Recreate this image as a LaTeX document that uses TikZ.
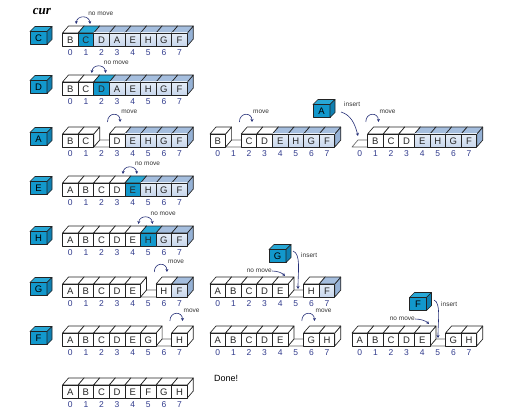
\documentclass[tikz,border=0pt]{standalone}
\usepackage{fontspec}
\setmainfont{Liberation Sans}
\newfontfamily\curfont{Liberation Serif}
\usepackage{xcolor}
\usetikzlibrary{arrows.meta}

\definecolor{curblue}{RGB}{18,152,204}
\definecolor{curtop}{RGB}{40,168,214}
\definecolor{curside}{RGB}{14,128,178}
\definecolor{restfront}{RGB}{200,215,236}
\definecolor{restlight}{RGB}{230,237,247}
\definecolor{resttop}{RGB}{165,190,222}
\definecolor{restside}{RGB}{150,178,214}
\definecolor{idxblue}{RGB}{48,58,140}
\definecolor{arrowblue}{RGB}{38,48,120}
\definecolor{edgegray}{RGB}{35,35,35}

\tikzset{
  cellline/.style={draw=edgegray, line width=.65pt, line join=round},
  front w/.style={cellline, fill=white},
  top w/.style={cellline, fill=white},
  side w/.style={cellline, fill=white},
  front c/.style={cellline, fill=curblue},
  top c/.style={cellline, fill=curtop},
  side c/.style={cellline, fill=curside},
  front u/.style={cellline, top color=restlight, bottom color=restfront},
  top u/.style={cellline, fill=resttop},
  side u/.style={cellline, fill=restside},
  floor/.style={draw=black!60, line width=.6pt, fill=white, line join=round},
  cellchar/.style={inner sep=0, text=black!85, font=\fontsize{9.5}{10}\selectfont},
  idx/.style={inner sep=0, text=idxblue, font=\fontsize{8.5}{9}\selectfont},
  note/.style={inner sep=0, anchor=west, text=black!80, font=\fontsize{6.5}{7}\selectfont},
  cubefront/.style={cellline, fill=curblue, minimum width=17pt, minimum height=13pt,
    inner sep=0, outer sep=0, font=\fontsize{9.5}{10}\selectfont},
  cubetop/.style={cellline, fill=curtop},
  cubeside/.style={cellline, fill=curside},
  movearrow/.style={draw=arrowblue, line width=.6pt, -{Stealth[length=3pt,width=3pt]}},
  nomovearrow/.style={draw=arrowblue, line width=.6pt,
    {Stealth[length=3pt,width=3pt]}-{Stealth[length=3pt,width=3pt]}},
}

\newcommand{\cellw}{15.6}
\newcommand{\cellh}{13}
\newcommand{\depx}{6}
\newcommand{\depy}{7}
\def\gapkind{g}

% one row of the array: left edge, top of the front, list letter/kind
% kind: w = sorted, c = current, u = not yet sorted, g = empty slot
\newcommand{\cellrow}[3]{%
  % empty slots first, their floor lies behind the cells
  \foreach \l/\t [count=\k from 0] in {#3}{%
    \edef\kind{\t}%
    \ifx\kind\gapkind
      \draw[floor] ({#1+\k*\cellw},{#2+\cellh}) -- ++(\cellw,0) -- ++(\depx,-\depy) -- ++(-\cellw,0) -- cycle;
    \fi
  }%
  \foreach \l/\t [count=\k from 0] in {#3}{%
    \edef\kind{\t}%
    \ifx\kind\gapkind\else
      \draw[side \t] ({#1+(\k+1)*\cellw},{#2}) -- ++(\depx,-\depy) -- ++(0,\cellh) -- ++(-\depx,\depy) -- cycle;
      \draw[top \t] ({#1+\k*\cellw},{#2}) -- ++(\depx,-\depy) -- ++(\cellw,0) -- ++(-\depx,\depy) -- cycle;
      \draw[front \t] ({#1+\k*\cellw},{#2}) rectangle ++(\cellw,\cellh);
      \node[cellchar] at ({#1+(\k+.5)*\cellw},{#2+\cellh/2+.3}) {\l};
    \fi
    \node[idx] at ({#1+(\k+.5)*\cellw},{#2+\cellh+6.5}) {\k};
  }%
}

% the element in hand
\newcommand{\blockcube}[4]{% name, centre of the front, letter
  \node[cubefront] (#1) at (#2,#3) {#4};
  \draw[cubetop] (#1.north west) -- ++(5,-5) -- ++(17,0) -- (#1.north east) -- cycle;
  \draw[cubeside] (#1.north east) -- ++(5,-5) -- ++(0,13) -- (#1.south east) -- cycle;
}

% arc over the current slot
\newcommand{\nomove}[4]{% name, left edge, top, slot
  \coordinate (#1 l) at ({#2+#4*\cellw-2},{#3-9});
  \coordinate (#1 r) at ({#2+#4*\cellw+12},{#3-9});
  \draw[nomovearrow] (#1 l) .. controls +(1,-9) and +(-1,-9) .. (#1 r);
  \node[note] (#1 txt) at ({#2+#4*\cellw+10},{#3-19}) {no move};
}

% arc from the empty slot to the cell that moved right
\newcommand{\moved}[4]{% name, left edge, top, empty slot
  \coordinate (#1 from) at ({#2+(#4+.5)*\cellw+6},{#3-12});
  \coordinate (#1 to) at ({#2+(#4+1.5)*\cellw+3},{#3-12});
  \draw[movearrow] (#1 from) .. controls +(0,-10) and +(0,-10) .. (#1 to);
  \node[note] (#1 txt) at ({#2+(#4+1.5)*\cellw+4},{#3-22}) {move};
}

\begin{document}
\begin{tikzpicture}[x=1pt,y=-1pt]
\useasboundingbox (0,0) rectangle (523,420);

\node[font=\curfont\bfseries\itshape\fontsize{13}{13}\selectfont] (cur) at (42,12) {cur};

% C
\blockcube{cube C}{38.5}{38}{C}
\cellrow{62.5}{33}{B/w,C/c,D/u,A/u,E/u,H/u,G/u,F/u}
\nomove{nm C}{62.5}{33}{1}

% D
\blockcube{cube D}{38.5}{87}{D}
\cellrow{62.5}{82}{B/w,C/w,D/c,A/u,E/u,H/u,G/u,F/u}
\nomove{nm D}{62.5}{82}{2}

% A
\blockcube{cube A}{38.5}{139}{A}
\cellrow{62.5}{134}{B/w,C/w,-/g,D/w,E/u,H/u,G/u,F/u}
\moved{mv A1}{62.5}{134}{2}
\cellrow{210}{134}{B/w,-/g,C/w,D/w,E/u,H/u,G/u,F/u}
\moved{mv A2}{210}{134}{1}
\blockcube{cube A in}{321.5}{111}{A}
\cellrow{352}{134}{-/g,B/w,C/w,D/w,E/u,H/u,G/u,F/u}
\moved{mv A3}{352}{134}{0}
\coordinate (ins A from) at (341,112);
\coordinate (ins A to) at (358,136);
\draw[movearrow] (ins A from) .. controls +(10,3) and +(-3,-12) .. (ins A to);
\node[note] (ins A txt) at (344,104) {insert};

% E
\blockcube{cube E}{38.5}{188}{E}
\cellrow{62.5}{183}{A/w,B/w,C/w,D/w,E/c,H/u,G/u,F/u}
\nomove{nm E}{62.5}{183}{4}

% H
\blockcube{cube H}{38.5}{238}{H}
\cellrow{62.5}{233}{A/w,B/w,C/w,D/w,E/w,H/c,G/u,F/u}
\nomove{nm H}{62.5}{233}{5}

% G
\blockcube{cube G}{38.5}{289}{G}
\cellrow{62.5}{284}{A/w,B/w,C/w,D/w,E/w,-/g,H/w,F/u}
\moved{mv G1}{62.5}{284}{5}
\cellrow{210}{284}{A/w,B/w,C/w,D/w,E/w,-/g,H/w,F/u}
\blockcube{cube G in}{277.5}{256}{G}
\coordinate (ins G from) at (293,251);
\coordinate (ins G to) at (298,289);
\draw[movearrow] (ins G from) .. controls +(8,3) and +(0,-18) .. (ins G to);
\node[note] (ins G txt) at (301,255) {insert};
\node[note, anchor=east] (nm G txt) at (272,271) {no move};
\coordinate (nm G to) at (285,276);
\draw[movearrow] (nm G txt.east) .. controls +(6,0) and +(-3,-3) .. (nm G to);

% F
\blockcube{cube F}{38.5}{338}{F}
\cellrow{62.5}{333}{A/w,B/w,C/w,D/w,E/w,G/w,-/g,H/w}
\moved{mv F1}{62.5}{333}{6}
\cellrow{210}{333}{A/w,B/w,C/w,D/w,E/w,-/g,G/w,H/w}
\moved{mv F2}{210}{333}{5}
\cellrow{352}{333}{A/w,B/w,C/w,D/w,E/w,-/g,G/w,H/w}
\blockcube{cube F in}{418}{304}{F}
\coordinate (ins F from) at (434,300);
\coordinate (ins F to) at (438,338);
\draw[movearrow] (ins F from) .. controls +(7,3) and +(0,-18) .. (ins F to);
\node[note] (ins F txt) at (441,304) {insert};
\node[note, anchor=east] (nm F txt) at (415,319) {no move};
\coordinate (nm F to) at (429,324);
\draw[movearrow] (nm F txt.east) .. controls +(6,0) and +(-3,-3) .. (nm F to);

% sorted
\cellrow{62.5}{385}{A/w,B/w,C/w,D/w,E/w,F/w,G/w,H/w}
\node[anchor=west, inner sep=0, font=\fontsize{9}{10}\selectfont] (done) at (214,378) {Done!};
\end{tikzpicture}
\end{document}
